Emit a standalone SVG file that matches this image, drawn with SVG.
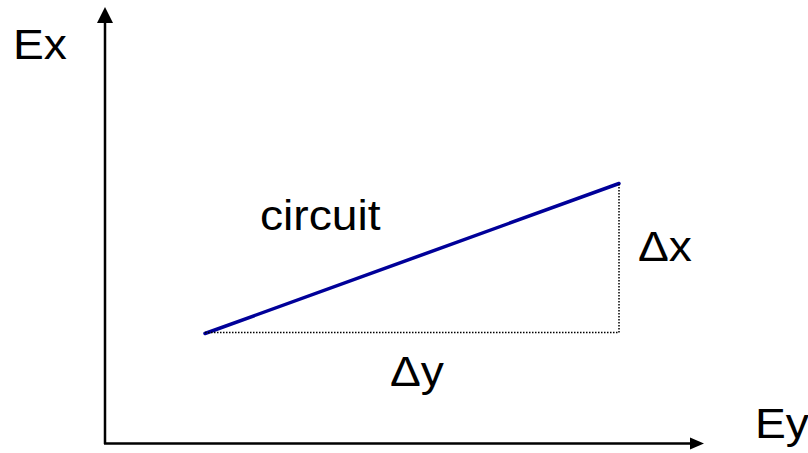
<svg xmlns="http://www.w3.org/2000/svg" width="808" height="453" viewBox="0 0 808 453">
<style>
text{font-family:"Liberation Sans",Arial,sans-serif;font-size:42px;fill:#000}
.ax{stroke:#000;stroke-width:2.5;fill:none}
.dot{stroke:#000;stroke-width:1.5;stroke-dasharray:1.5 1.5;fill:none}
</style>
<rect width="808" height="453" fill="#fff"/>
<g id="connectors">
<line class="ax" x1="105" y1="22" x2="105" y2="444"/>
<polygon points="105,7 97,23 113,23" fill="#000"/>
<line class="ax" x1="104" y1="443.5" x2="691" y2="443.5"/>
<polygon points="704,443.5 690,437.5 690,449.5" fill="#000"/>
<line x1="205" y1="333.5" x2="619" y2="183.5" stroke="#000099" stroke-width="3.5" stroke-linecap="round"/>
<line class="dot" x1="205" y1="332.5" x2="619" y2="332.5"/>
<line class="dot" x1="619" y1="184" x2="619" y2="332.5"/>
</g>
<g id="label-ex"><text transform="translate(13 59) scale(1.1 1)">Ex</text></g>
<g id="label-ey"><text transform="translate(755 438) scale(1.1 1)">Ey</text></g>
<g id="label-circuit"><text transform="translate(260 230) scale(1.1 1)">circuit</text></g>
<g id="label-dx"><text transform="translate(638 261) scale(1.1 1)">Δx</text></g>
<g id="label-dy"><text transform="translate(390 386) scale(1.1 1)">Δy</text></g>
</svg>
